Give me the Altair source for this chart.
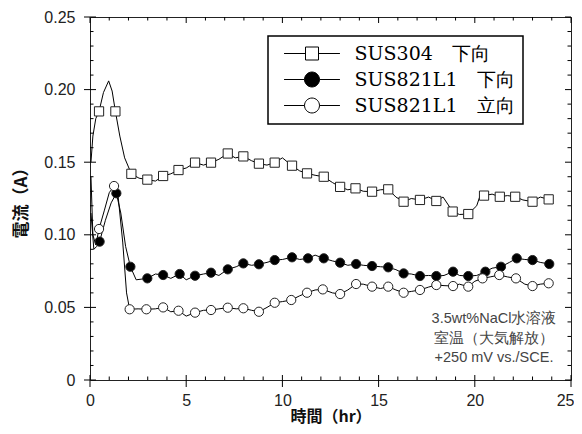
import altair as alt
import pandas as pd

# ---------------- data ----------------
series = ["SUS304\u3000下向", "SUS821L1\u3000下向", "SUS821L1\u3000立向"]

sq_t = [0.05, 0.15, 0.3, 0.47, 0.7, 0.97, 1.15, 1.32, 1.55, 1.8, 2.15, 2.55, 2.98, 3.4, 3.8,
        4.2, 4.6, 5.0, 5.46, 5.9, 6.29, 6.7, 7.16, 7.55, 7.97, 8.4, 8.78, 9.2, 9.6, 10.0,
        10.5, 10.9, 11.28, 11.7, 12.15, 12.6, 13.0, 13.4, 13.8, 14.2, 14.66, 15.1, 15.5, 15.9, 16.3,
        16.7, 17.15, 17.6, 18.0, 18.35, 18.85, 19.2, 19.66, 20.1, 20.3, 20.48, 20.9, 21.3, 21.7, 22.1,
        22.5, 23.0, 23.4, 23.84, 24.0]
sq_v = [0.150, 0.168, 0.180, 0.185, 0.198, 0.206, 0.199, 0.185, 0.168, 0.153, 0.142, 0.139, 0.138, 0.137, 0.1405,
        0.142, 0.1446, 0.146, 0.1497, 0.148, 0.1497, 0.152, 0.156, 0.153, 0.154, 0.151, 0.149, 0.148, 0.1497, 0.153,
        0.1476, 0.144, 0.1423, 0.141, 0.140, 0.136, 0.133, 0.131, 0.132, 0.130, 0.1297, 0.131, 0.1313, 0.126, 0.1228,
        0.125, 0.124, 0.126, 0.1233, 0.126, 0.116, 0.114, 0.1143, 0.120, 0.128, 0.127, 0.128, 0.1262, 0.127, 0.1262,
        0.124, 0.1228, 0.126, 0.1244, 0.124]
sq_marks = [0.47, 1.32, 2.15, 2.98, 3.8, 4.6, 5.46, 6.29, 7.16, 7.97, 8.78, 9.6, 10.5, 11.28, 12.15,
            13.0, 13.8, 14.66, 15.5, 16.3, 17.15, 18.0, 18.85, 19.66, 20.48, 21.3, 22.1, 23.0, 23.84]

fc_t = [0.05, 0.2, 0.35, 0.5, 0.8, 1.1, 1.37, 1.6, 1.85, 2.1, 2.4, 2.98, 3.4, 3.8, 4.2,
        4.66, 5.0, 5.46, 5.9, 6.29, 6.7, 7.16, 7.6, 7.97, 8.4, 8.78, 9.2, 9.6, 10.0, 10.5,
        10.9, 11.33, 11.7, 12.15, 12.6, 13.0, 13.4, 13.83, 14.2, 14.66, 15.1, 15.5, 15.9, 16.3, 16.7,
        17.15, 17.6, 18.0, 18.4, 18.87, 19.2, 19.66, 20.1, 20.55, 20.9, 21.36, 21.8, 22.18, 22.6, 23.0,
        23.4, 23.87, 24.0]
fc_v = [0.115, 0.090, 0.092, 0.0953, 0.110, 0.122, 0.1286, 0.115, 0.092, 0.078, 0.069, 0.070, 0.073, 0.0723, 0.070,
        0.073, 0.069, 0.0718, 0.073, 0.0739, 0.072, 0.0762, 0.078, 0.0803, 0.079, 0.0797, 0.081, 0.0826, 0.083, 0.0845,
        0.083, 0.0838, 0.086, 0.0838, 0.082, 0.0808, 0.079, 0.0799, 0.079, 0.0785, 0.078, 0.0776, 0.076, 0.0734, 0.073,
        0.0716, 0.072, 0.0716, 0.072, 0.0746, 0.072, 0.0716, 0.072, 0.0746, 0.077, 0.078, 0.081, 0.0838, 0.083, 0.0826,
        0.081, 0.0799, 0.080]
fc_marks = [0.5, 1.37, 2.1, 2.98, 3.8, 4.66, 5.46, 6.29, 7.16, 7.97, 8.78, 9.6, 10.5, 11.33, 12.15,
            13.0, 13.83, 14.66, 15.5, 16.3, 17.15, 18.0, 18.87, 19.66, 20.55, 21.36, 22.18, 23.0, 23.87]

oc_t = [0.05, 0.15, 0.3, 0.47, 0.75, 1.0, 1.25, 1.45, 1.7, 1.9, 2.06, 2.5, 2.93, 3.4, 3.8,
        4.2, 4.6, 5.0, 5.46, 5.9, 6.29, 6.7, 7.16, 7.6, 7.97, 8.4, 8.78, 9.2, 9.6, 10.0,
        10.46, 10.9, 11.28, 11.7, 12.1, 12.6, 13.0, 13.4, 13.83, 14.2, 14.66, 15.1, 15.5, 15.9, 16.3,
        16.7, 17.15, 17.6, 18.0, 18.4, 18.87, 19.2, 19.66, 20.0, 20.4, 20.8, 21.27, 21.7, 22.14, 22.6,
        23.0, 23.4, 23.84, 24.0]
oc_v = [0.140, 0.100, 0.093, 0.104, 0.117, 0.129, 0.1336, 0.128, 0.095, 0.060, 0.0487, 0.049, 0.0487, 0.049, 0.050,
        0.047, 0.0477, 0.044, 0.0464, 0.048, 0.0482, 0.049, 0.0498, 0.049, 0.0494, 0.048, 0.047, 0.050, 0.0532, 0.054,
        0.0551, 0.058, 0.0601, 0.062, 0.0624, 0.060, 0.0592, 0.062, 0.0661, 0.066, 0.0643, 0.063, 0.0643, 0.062, 0.0601,
        0.061, 0.062, 0.064, 0.0654, 0.065, 0.0647, 0.066, 0.0643, 0.068, 0.070, 0.071, 0.0723, 0.071, 0.070, 0.066,
        0.0647, 0.066, 0.0666, 0.067]
oc_marks = [0.47, 1.25, 2.06, 2.93, 3.8, 4.6, 5.46, 6.29, 7.16, 7.97, 8.78, 9.6, 10.46, 11.28, 12.1,
            13.0, 13.83, 14.66, 15.5, 16.3, 17.15, 18.0, 18.87, 19.66, 20.4, 21.27, 22.14, 23.0, 23.84]

x_major = [0, 5, 10, 15, 20, 25]
x_minor = [i for i in range(0, 26) if i % 5]
y_major = [0, 0.05, 0.10, 0.15, 0.20, 0.25]
y_minor = [i / 100 for i in range(0, 26) if i % 5]

note = "3.5wt%NaCl水溶液\n室温（大気解放）\n+250 mV vs./SCE."

# ---------------- tables ----------------
rows = []
for name, ts, vs, mk in [(series[0], sq_t, sq_v, sq_marks),
                         (series[1], fc_t, fc_v, fc_marks),
                         (series[2], oc_t, oc_v, oc_marks)]:
    mset = set(mk)
    for t, v in zip(ts, vs):
        rows.append({"grp": name, "series": name, "t": t, "v": v, "mk": t in mset})
df = pd.DataFrame(rows)
df_mk = df[df["mk"]]

W, H = 481, 363
X0, X1, Y0, Y1 = 0, 25, 0, 0.25
xs = alt.Scale(domain=[X0, X1], nice=False, zero=False)
ys = alt.Scale(domain=[Y0, Y1], nice=False, zero=False)
TC = "#222222"

# tick segments (pixel lengths converted to data units), one short 2-point line per tick
px_x = (X1 - X0) / W
px_y = (Y1 - Y0) / H
tk_rows = []
def seg(key, a, b):
    tk_rows.append({"grp": key, "t": a[0], "v": a[1]})
    tk_rows.append({"grp": key, "t": b[0], "v": b[1]})
for i, t in enumerate(x_major):
    seg(f"xb{i}", (t, Y0 - 7 * px_y), (t, Y0 + 5 * px_y))
    seg(f"xt{i}", (t, Y1), (t, Y1 - 6 * px_y))
for i, t in enumerate(x_minor):
    seg(f"mb{i}", (t, Y0), (t, Y0 + 3.5 * px_y))
    seg(f"mt{i}", (t, Y1), (t, Y1 - 3.5 * px_y))
for i, v in enumerate(y_major):
    seg(f"yl{i}", (X0 - 6 * px_x, v), (X0 + 6 * px_x, v))
    seg(f"yr{i}", (X1 - 6 * px_x, v), (X1, v))
for i, v in enumerate(y_minor):
    seg(f"nl{i}", (X0, v), (X0 + 3.5 * px_x, v))
    seg(f"nr{i}", (X1 - 3.5 * px_x, v), (X1, v))
df_all = pd.concat([df[["grp", "t", "v"]], pd.DataFrame(tk_rows)], ignore_index=True)

# data curves and tick segments drawn by the same line layer, with the labelled axes
lines = alt.Chart(df_all).mark_line(color="black", strokeWidth=1, clip=False).encode(
    x=alt.X("t:Q", scale=xs, axis=alt.Axis(
        orient="bottom", values=x_major, ticks=False, domain=False, grid=False,
        labelFont="Liberation Sans", labelFontSize=16, labelColor="#222222", labelPadding=12,
        labelFlush=False,
        labelAlign=alt.condition("datum.value == 25", alt.value("right"), alt.value("center")),
        labelOffset=alt.condition("datum.value == 25", alt.value(3), alt.value(0)),
        title="時間（hr）", titleFont="Noto Sans CJK JP", titleFontSize=16,
        titleFontWeight="bold", titleColor="#111111", titlePadding=0)),
    y=alt.Y("v:Q", scale=ys, axis=alt.Axis(
        orient="left", values=y_major, ticks=False, domain=False, grid=False,
        labelExpr="datum.value == 0 ? '0' : format(datum.value, '.2f')",
        labelFont="Liberation Sans", labelFontSize=16, labelColor="#222222", labelPadding=15,
        title="電流（A）", titleFont="Noto Sans CJK JP", titleFontSize=17,
        titleFontWeight="bold", titleColor="#111111", titlePadding=13)),
    detail="grp:N",
)

# markers
marks = alt.Chart(df_mk).mark_point(strokeWidth=1, stroke="#222222", opacity=1, size=85).encode(
    x=alt.X("t:Q", scale=xs),
    y=alt.Y("v:Q", scale=ys),
    shape=alt.Shape("series:N", scale=alt.Scale(domain=series, range=["square", "circle", "circle"]), legend=None),
    fill=alt.Fill("series:N", scale=alt.Scale(domain=series, range=["white", "black", "white"]), legend=None),
)

# legend-only layer with line+marker symbols
sym_sq = "M-4.3,0H-1M1,0H4.3M-1,-1H1V1H-1Z"
sym_ci = "M-4.3,0H-1.15M1.15,0H4.3M-1.15,0A1.15,1.15 0 1,0 1.15,0A1.15,1.15 0 1,0 -1.15,0Z"
leg = alt.Legend(title=None, orient="none", legendX=178, legendY=19,
                 strokeColor="black", fillColor="white", padding=8,
                 symbolSize=169, symbolOffset=26.5, labelOffset=33, rowPadding=6,
                 symbolStrokeColor="black", symbolStrokeWidth=1, symbolOpacity=1,
                 labelFont="DejaVu Serif", labelFontSize=19, labelColor="black", labelLimit=400)
legend_layer = alt.Chart(df).mark_point(filled=True, opacity=1, strokeWidth=1).encode(
    x=alt.X("t:Q", scale=xs),
    y=alt.Y("v:Q", scale=ys),
    shape=alt.Shape("series:N", scale=alt.Scale(domain=series, range=[sym_sq, sym_ci, sym_ci]), legend=leg),
    fill=alt.Fill("series:N", scale=alt.Scale(domain=series, range=["white", "black", "white"]), legend=leg),
    stroke=alt.Stroke("series:N", scale=alt.Scale(domain=series, range=["black", "black", "black"]), legend=leg),
).transform_filter("false")

annot = alt.Chart(pd.DataFrame({"txt": [note]})).mark_text(
    align="center", baseline="top", lineBreak="\n", lineHeight=19.5,
    font="Liberation Sans", fontSize=14.5, color="#444444",
).encode(x=alt.value(404), y=alt.value(295), text="txt:N")

chart = alt.layer(lines, marks, legend_layer, annot).resolve_scale(
    shape="independent", fill="independent", stroke="independent"
).properties(
    width=W, height=H,
    autosize=alt.AutoSizeParams(type="none"),
    padding={"left": 82, "top": 9, "right": 3, "bottom": 46},
    background="white",
).configure_view(stroke=TC, strokeWidth=1).configure_legend(strokeWidth=1.5)

chart.save("out.html", embed_options={"renderer": "svg", "actions": False})
